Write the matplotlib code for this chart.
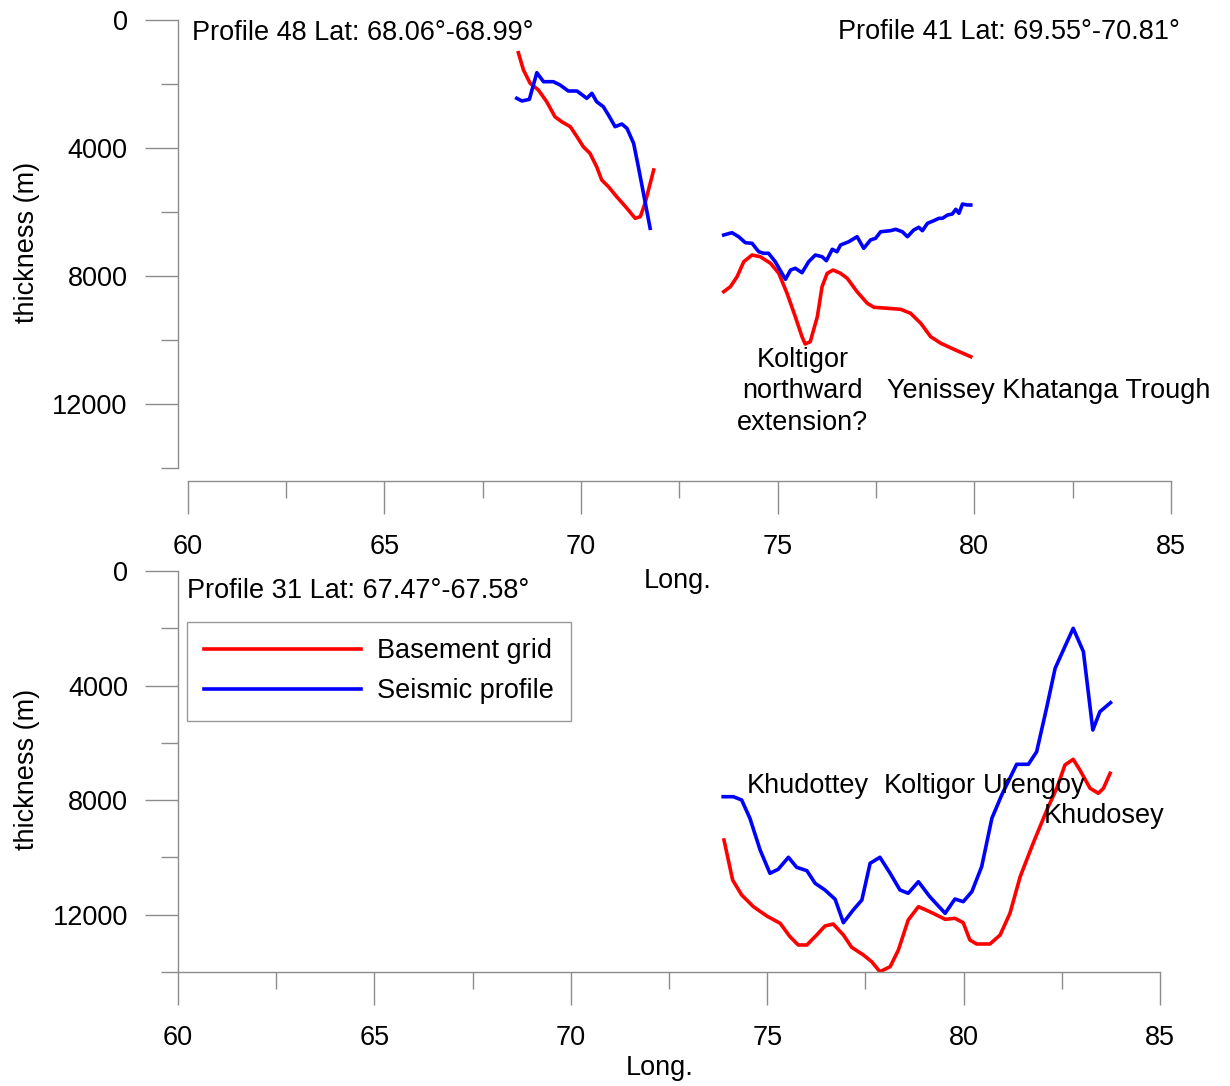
import numpy as np
import matplotlib.pyplot as plt
from matplotlib.ticker import MultipleLocator

plt.rcParams['font.family'] = ['Liberation Sans', 'DejaVu Sans']

# Profile 48 (top panel, left)
p48_base_lon = [68.41, 68.54, 68.71, 68.92, 69.13, 69.34, 69.51, 69.73, 69.90, 70.06, 70.23,
                70.40, 70.53, 70.70, 70.91, 71.17, 71.38, 71.51, 71.63, 71.85]
p48_base_d = [1022, 1563, 1978, 2188, 2553, 3022, 3178, 3334, 3647, 3959, 4166,
              4584, 5000, 5209, 5522, 5884, 6197, 6147, 5728, 4687]
p48_seis_lon = [68.37, 68.50, 68.69, 68.88, 69.05, 69.30, 69.47, 69.68, 69.90, 70.15, 70.28,
                70.40, 70.57, 70.70, 70.87, 71.04, 71.17, 71.34, 71.46, 71.59, 71.76]
p48_seis_d = [2447, 2531, 2478, 1647, 1928, 1928, 2031, 2219, 2219, 2447, 2291,
              2553, 2709, 2969, 3334, 3250, 3384, 3853, 4584, 5416, 6509]

# Profile 41 (top panel, right)
p41_base_lon = [73.63, 73.80, 73.97, 74.14, 74.35, 74.56, 74.82, 75.03, 75.24, 75.45, 75.62,
                75.70, 75.83, 76.01, 76.13, 76.26, 76.41, 76.60, 76.77, 77.02, 77.28,
                77.45, 77.79, 78.13, 78.38, 78.64, 78.89, 79.15, 79.48, 79.91]
p41_base_d = [8491, 8334, 8022, 7553, 7344, 7397, 7603, 7916, 8541, 9272, 9897,
              10125, 10053, 9272, 8334, 7916, 7813, 7916, 8072, 8491, 8853,
              8978, 9009, 9041, 9166, 9478, 9897, 10103, 10291, 10522]
p41_seis_lon = [73.63, 73.84, 74.01, 74.18, 74.35, 74.52, 74.65, 74.77, 74.94, 75.11, 75.20,
                75.33, 75.45, 75.62, 75.79, 75.96, 76.13, 76.24, 76.39, 76.51, 76.60,
                76.81, 77.02, 77.19, 77.36, 77.49, 77.62, 77.87, 78.00, 78.17, 78.30,
                78.46, 78.59, 78.68, 78.81, 78.97, 79.10, 79.19, 79.32, 79.44, 79.53,
                79.61, 79.70, 79.82, 79.91]
p41_seis_d = [6719, 6647, 6772, 6959, 6978, 7241, 7291, 7291, 7553, 7916, 8103,
              7813, 7759, 7897, 7553, 7344, 7397, 7522, 7166, 7241, 7031,
              6928, 6772, 7134, 6875, 6822, 6616, 6584, 6541, 6616, 6772,
              6563, 6478, 6584, 6353, 6272, 6197, 6197, 6094, 6063, 5916,
              6041, 5750, 5781, 5781]

# Profile 31 (bottom panel)
p31_base_lon = [73.90, 74.12, 74.35, 74.65, 74.99, 75.33, 75.58, 75.79, 76.01, 76.26, 76.47,
                76.68, 76.94, 77.15, 77.45, 77.66, 77.87, 78.13, 78.34, 78.59, 78.85,
                79.14, 79.53, 79.78, 79.99, 80.16, 80.33, 80.67, 80.93, 81.18, 81.44,
                81.77, 82.12, 82.37, 82.58, 82.79, 82.96, 83.22, 83.43, 83.56, 83.73]
p31_base_d = [9391, 10788, 11312, 11720, 12045, 12300, 12767, 13057, 13057, 12708, 12394,
              12324, 12708, 13138, 13406, 13640, 13989, 13815, 13232, 12184, 11720,
              11895, 12160, 12125, 12279, 12883, 13022, 13022, 12708, 11951, 10673,
              9507, 8344, 7587, 6773, 6574, 6948, 7587, 7761, 7587, 7063]
p31_seis_lon = [73.88, 74.14, 74.35, 74.56, 74.82, 75.07, 75.28, 75.54, 75.75, 76.01, 76.22,
                76.47, 76.73, 76.94, 77.19, 77.41, 77.62, 77.87, 78.13, 78.38, 78.59,
                78.85, 79.14, 79.53, 79.78, 79.99, 80.21, 80.46, 80.72, 80.97, 81.35,
                81.65, 81.86, 82.12, 82.33, 82.54, 82.79, 83.05, 83.29, 83.47, 83.74]
p31_seis_d = [7880, 7880, 7995, 8634, 9741, 10554, 10414, 9995, 10345, 10463, 10903,
              11137, 11462, 12279, 11835, 11486, 10205, 9995, 10554, 11137, 11252,
              10847, 11371, 11951, 11451, 11545, 11196, 10323, 8634, 7820, 6749,
              6749, 6309, 4738, 3397, 2758, 2000, 2817, 5551, 4912, 4598]

FS = 19.5
GRAY = '#8c8c8c'
RED = '#ff0000'
BLUE = '#0000ff'
LW = 2.6
W, H = 1230, 1086

fig = plt.figure(figsize=(W / 100, H / 100), dpi=100)


def style_axis(ax, xoff, yoff):
    for s in ['top', 'right']:
        ax.spines[s].set_visible(False)
    for s in ['left', 'bottom']:
        ax.spines[s].set_color(GRAY)
        ax.spines[s].set_linewidth(1.0)
    ax.spines['left'].set_position(('outward', yoff))
    ax.spines['bottom'].set_position(('outward', xoff))
    ax.set_xlim(60, 85)
    ax.set_ylim(14000, 0)
    ax.xaxis.set_major_locator(MultipleLocator(5))
    ax.xaxis.set_minor_locator(MultipleLocator(2.5))
    ax.yaxis.set_major_locator(MultipleLocator(4000))
    ax.yaxis.set_minor_locator(MultipleLocator(2000))
    ax.tick_params(which='major', length=24, width=1.0, color=GRAY, labelsize=FS)
    ax.tick_params(which='minor', length=12, width=1.0, color=GRAY)
    ax.tick_params(axis='y', which='major', pad=12)
    ax.tick_params(axis='x', which='major', pad=14)
    ax.patch.set_visible(False)


# top panel
ax1 = fig.add_axes([187.5 / W, 1 - 468 / H, 983.5 / W, 448 / H])
style_axis(ax1, 9.4, 7.2)
ax1.plot(p48_base_lon, p48_base_d, color=RED, lw=LW)
ax1.plot(p48_seis_lon, p48_seis_d, color=BLUE, lw=LW)
ax1.plot(p41_base_lon, p41_base_d, color=RED, lw=LW)
ax1.plot(p41_seis_lon, p41_seis_d, color=BLUE, lw=LW)
ax1.set_xlabel('Long.', fontsize=FS)
ax1.set_ylabel('thickness (m)', fontsize=FS)
ax1.xaxis.label.set_va('baseline')
ax1.xaxis.set_label_coords(0.498, -0.268)
ax1.yaxis.set_label_coords(-0.150, 0.504)
ax1.text(60.11, 625, 'Profile 48 Lat: 68.06°-68.99°', fontsize=FS, va='baseline', ha='left')
ax1.text(85.23, 590, 'Profile 41 Lat: 69.55°-70.81°', fontsize=FS, va='baseline', ha='right')
ax1.text(75.63, 10834, 'Koltigor', fontsize=FS, va='baseline', ha='center')
ax1.text(75.63, 11813, 'northward', fontsize=FS, va='baseline', ha='center')
ax1.text(75.63, 12813, 'extension?', fontsize=FS, va='baseline', ha='center')
ax1.text(77.77, 11813, 'Yenissey Khatanga Trough', fontsize=FS, va='baseline', ha='left')

# bottom panel
ax2 = fig.add_axes([178 / W, 1 - 972 / H, 982 / W, 401 / H])
style_axis(ax2, 0, 0)
ax2.plot(p31_base_lon, p31_base_d, color=RED, lw=LW, label='Basement grid')
ax2.plot(p31_seis_lon, p31_seis_d, color=BLUE, lw=LW, label='Seismic profile')
ax2.set_xlabel('Long.', fontsize=FS)
ax2.set_ylabel('thickness (m)', fontsize=FS)
ax2.xaxis.label.set_va('baseline')
ax2.xaxis.set_label_coords(0.491, -0.257)
ax2.yaxis.set_label_coords(-0.1405, 0.504)
ax2.text(60.24, 953, 'Profile 31 Lat: 67.47°-67.58°', fontsize=FS, va='baseline', ha='left')
ax2.text(74.48, 7762, 'Khudottey', fontsize=FS, va='baseline', ha='left')
ax2.text(77.96, 7762, 'Koltigor', fontsize=FS, va='baseline', ha='left')
ax2.text(80.50, 7762, 'Urengoy', fontsize=FS, va='baseline', ha='left')
ax2.text(82.03, 8809, 'Khudosey', fontsize=FS, va='baseline', ha='left')

leg = ax2.legend(loc='upper left', bbox_to_anchor=(0.0089, 0.8736), borderaxespad=0,
                 fontsize=FS, handlelength=5.8, handletextpad=0.6, borderpad=0.62,
                 labelspacing=0.5, fancybox=False, framealpha=1, edgecolor='#999999')
leg.get_frame().set_linewidth(1.0)

fig.savefig('out.png', dpi=100)
